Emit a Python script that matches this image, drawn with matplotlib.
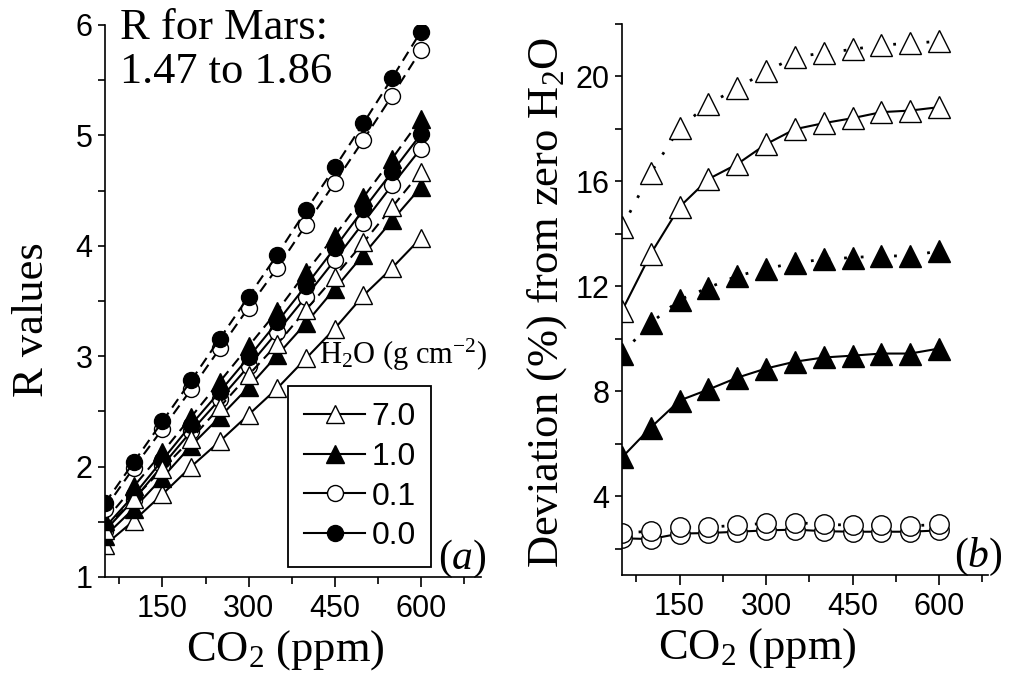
import matplotlib
matplotlib.use("Agg")
import matplotlib.pyplot as plt
from matplotlib.ticker import MultipleLocator
from matplotlib.lines import Line2D

plt.rcParams["font.family"] = ["Liberation Sans", "DejaVu Sans"]
plt.rcParams["mathtext.fontset"] = "custom"
plt.rcParams["mathtext.rm"] = "Liberation Serif"
plt.rcParams["mathtext.it"] = "Liberation Serif:italic"

SERIF = "Liberation Serif"

# ---- data -------------------------------------------------
co2 = [50, 100, 150, 200, 250, 300, 350, 400, 450, 500, 550, 600]

# (a) R values, dashed set
r_dash_00 = [1.67, 2.04, 2.41, 2.78, 3.16, 3.54, 3.92, 4.32, 4.71, 5.11, 5.52, 5.94]
r_dash_01 = [1.62, 1.99, 2.34, 2.70, 3.07, 3.44, 3.80, 4.19, 4.57, 4.96, 5.36, 5.77]
r_dash_10 = [1.51, 1.82, 2.13, 2.45, 2.77, 3.09, 3.41, 3.76, 4.09, 4.44, 4.79, 5.15]
r_dash_70 = [1.43, 1.71, 1.98, 2.25, 2.54, 2.83, 3.11, 3.42, 3.72, 4.03, 4.35, 4.67]
# (a) R values, solid set
r_solid_00 = [1.45, 1.74, 2.06, 2.38, 2.68, 2.99, 3.31, 3.64, 3.98, 4.33, 4.67, 5.01]
r_solid_01 = [1.42, 1.70, 2.01, 2.32, 2.61, 2.91, 3.22, 3.54, 3.87, 4.21, 4.55, 4.88]
r_solid_10 = [1.37, 1.62, 1.90, 2.19, 2.45, 2.72, 3.01, 3.30, 3.61, 3.92, 4.23, 4.53]
r_solid_70 = [1.29, 1.51, 1.75, 2.00, 2.23, 2.47, 2.71, 2.98, 3.25, 3.55, 3.80, 4.07]

# (b) deviation (%) from zero H2O
dev_dot_70 = [14.25, 16.33, 18.03, 18.95, 19.55, 20.2, 20.73, 20.9, 21.03, 21.2, 21.26, 21.34]
dev_solid_70 = [11.07, 13.24, 15.03, 16.09, 16.66, 17.42, 17.99, 18.22, 18.41, 18.64, 18.7, 18.83]
dev_dot_10 = [9.44, 10.6, 11.49, 11.95, 12.4, 12.67, 12.9, 13.03, 13.1, 13.16, 13.16, 13.35]
dev_solid_10 = [5.48, 6.62, 7.65, 8.07, 8.52, 8.87, 9.13, 9.29, 9.36, 9.44, 9.44, 9.63]
dev_dot_01 = [2.6, 2.67, 2.82, 2.82, 2.9, 2.97, 3.0, 2.93, 2.9, 2.9, 2.87, 2.93]
dev_solid_01 = [2.4, 2.37, 2.58, 2.6, 2.65, 2.7, 2.73, 2.67, 2.65, 2.65, 2.65, 2.7]

h2o_labels = ["7.0", "1.0", "0.1", "0.0"]

# marker style per H2O amount
styles = {
    "7.0": dict(marker="^", mfc="white"),
    "1.0": dict(marker="^", mfc="black"),
    "0.1": dict(marker="o", mfc="white"),
    "0.0": dict(marker="o", mfc="black"),
}


def ms_for(key, tri, circ):
    return tri if styles[key]["marker"] == "^" else circ


fig = plt.figure(figsize=(10.11, 6.83), dpi=100)
ax1 = fig.add_axes([0.1039, 0.1552, 0.3720, 0.8082])
ax2 = fig.add_axes([0.6152, 0.1581, 0.3620, 0.8068])

# ---- (a) --------------------------------------------------
dash_sets = {"0.0": r_dash_00, "0.1": r_dash_01, "1.0": r_dash_10, "7.0": r_dash_70}
solid_sets = {"0.0": r_solid_00, "0.1": r_solid_01, "1.0": r_solid_10, "7.0": r_solid_70}

for key in ["7.0", "1.0", "0.1", "0.0"]:
    ax1.plot(co2, solid_sets[key], color="black", lw=1.5, ls="-",
             marker=styles[key]["marker"], mfc=styles[key]["mfc"], mec="black",
             mew=1.0, ms=ms_for(key, 13, 11.5))
for key in ["7.0", "1.0", "0.1", "0.0"]:
    ax1.plot(co2, dash_sets[key], color="black", lw=1.5, dashes=(5, 3),
             marker=styles[key]["marker"], mfc=styles[key]["mfc"], mec="black",
             mew=1.0, ms=ms_for(key, 13, 11.5))

ax1.set_xlim(50, 705)
ax1.set_ylim(1, 6)
ax1.xaxis.set_major_locator(MultipleLocator(150))
ax1.xaxis.set_minor_locator(MultipleLocator(75))
ax1.yaxis.set_major_locator(MultipleLocator(1))
ax1.yaxis.set_minor_locator(MultipleLocator(0.5))

ax1.text(0.04, 1.03, "R for Mars:\n1.47 to 1.86", transform=ax1.transAxes,
         family=SERIF, fontsize=32, ha="left", va="top", linespacing=1.12)

handles = [Line2D([], [], color="black", lw=1.5, marker=styles[k]["marker"],
                  mfc=styles[k]["mfc"], mec="black", mew=1.0,
                  ms=ms_for(k, 13, 11.5)) for k in h2o_labels]
leg = ax1.legend(handles, h2o_labels, loc="lower left",
                 bbox_to_anchor=(0.487, 0.018), borderaxespad=0,
                 fontsize=23, handlelength=1.9, handletextpad=0.2,
                 labelspacing=0.3, borderpad=0.5, fancybox=False,
                 framealpha=1, edgecolor="black")
leg.get_frame().set_linewidth(1.3)
ax1.text(0.57, 0.385, r"H$_2$O (g cm$^{-2}$)", transform=ax1.transAxes,
         family=SERIF, fontsize=22, ha="left", va="baseline")
ax1.text(1.015, -0.005, r"($\mathit{a}$)", transform=ax1.transAxes,
         fontsize=30, ha="right", va="bottom", family=SERIF)

ax1.set_xlabel(r"CO$_2$ (ppm)", family=SERIF, fontsize=32)
ax1.set_ylabel("R values", family=SERIF, fontsize=32)
ax1.xaxis.set_label_coords(0.48, -0.092)
ax1.yaxis.set_label_coords(-0.14, 0.466)

# ---- (b) --------------------------------------------------
dot_sets = {"7.0": dev_dot_70, "1.0": dev_dot_10, "0.1": dev_dot_01}
sol_sets = {"7.0": dev_solid_70, "1.0": dev_solid_10, "0.1": dev_solid_01}
for key in ["7.0", "1.0", "0.1"]:
    ax2.plot(co2, sol_sets[key], color="black", lw=1.5, ls="-",
             marker=styles[key]["marker"], mfc=styles[key]["mfc"], mec="black",
             mew=1.0, ms=ms_for(key, 16, 14))
    ax2.plot(co2, dot_sets[key], color="black", lw=2.0, ls=(0, (1, 5)),
             marker=styles[key]["marker"], mfc=styles[key]["mfc"], mec="black",
             mew=1.0, ms=ms_for(key, 16, 14))

ax2.set_xlim(50, 685)
ax2.set_ylim(1, 22)
ax2.xaxis.set_major_locator(MultipleLocator(150))
ax2.xaxis.set_minor_locator(MultipleLocator(75))
ax2.yaxis.set_major_locator(MultipleLocator(4))
ax2.yaxis.set_minor_locator(MultipleLocator(2))
ax2.text(1.04, -0.005, r"($\mathit{b}$)", transform=ax2.transAxes,
         fontsize=30, ha="right", va="bottom", family=SERIF)

ax2.set_xlabel(r"CO$_2$ (ppm)", family=SERIF, fontsize=32)
ax2.set_ylabel(r"Deviation (%) from zero H$_2$O", family=SERIF, fontsize=32)
ax2.xaxis.set_label_coords(0.37, -0.092)
ax2.yaxis.set_label_coords(-0.145, 0.495)

for ax in (ax1, ax2):
    ax.spines["top"].set_visible(False)
    ax.spines["right"].set_visible(False)
    for s in ("left", "bottom"):
        ax.spines[s].set_linewidth(1.2)
    ax.tick_params(axis="both", which="both", direction="out", width=1.2,
                   labelsize=22)
    ax.tick_params(axis="x", which="major", length=7, pad=5)
    ax.tick_params(axis="x", which="minor", length=5)
    ax.tick_params(axis="y", which="both", length=5, pad=4)

fig.savefig("out.png", dpi=100)
